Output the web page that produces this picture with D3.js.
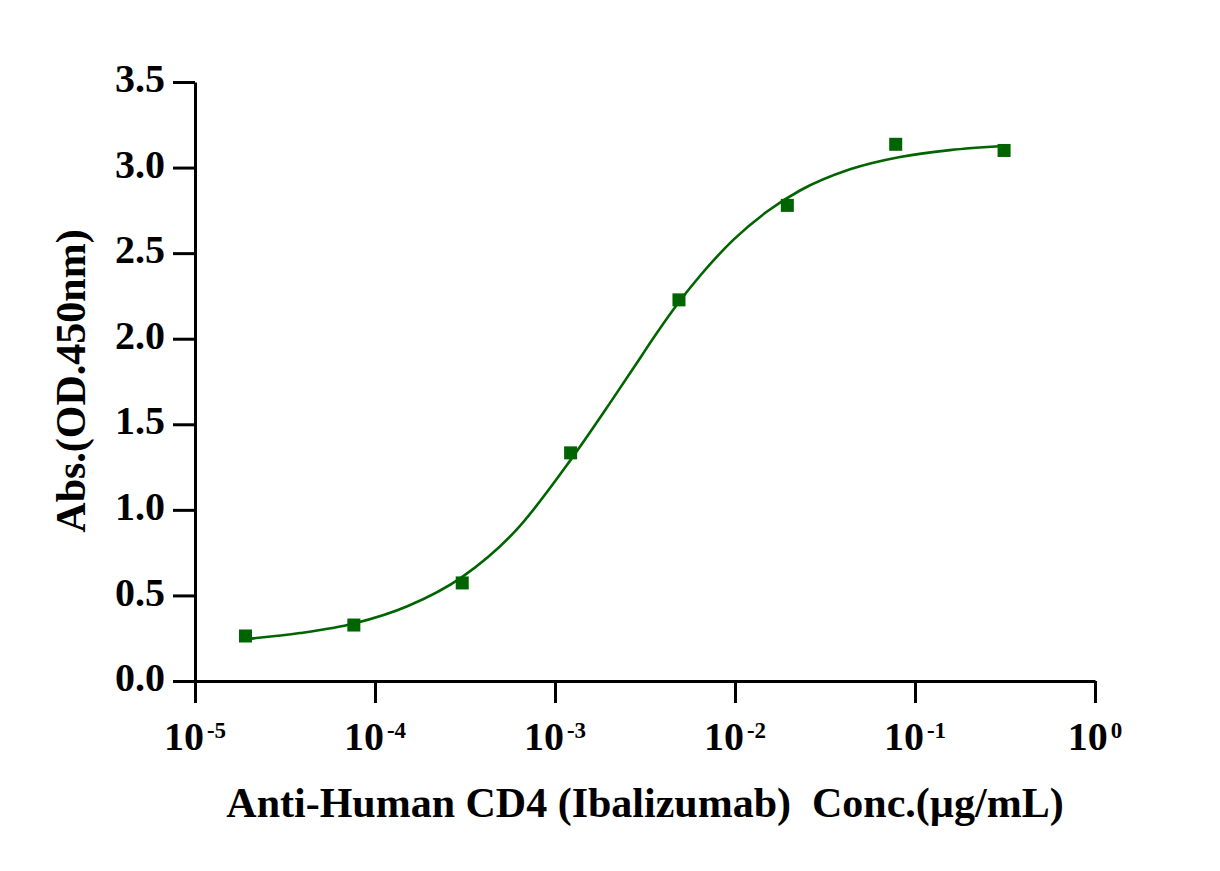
<!DOCTYPE html>
<html>
<head>
<meta charset="utf-8">
<script src="https://cdn.jsdelivr.net/npm/d3@7"></script>
<style>
body{margin:0;background:#fff;}
text{font-family:"Liberation Serif","Times New Roman",serif;font-weight:bold;fill:#000;}
</style>
</head>
<body>
<svg id="chart" width="1220" height="871"></svg>
<script>
// measured points, 4-fold dilutions starting at 0.3125 ug/mL
var conc = [1.907e-5, 7.629e-5, 3.052e-4, 1.221e-3, 4.883e-3, 1.953e-2, 7.813e-2, 0.3125];
var absorb = [0.263, 0.327, 0.573, 1.333, 2.227, 2.779, 3.136, 3.100];

// fitted curve (log10 conc, absorbance)
var curveLogConc = [-4.717, -4.417, -4.117, -3.817, -3.517, -3.217, -2.911, -2.694, -2.522, -2.472, -2.311, -2.194, -2.011, -1.822, -1.639, -1.361, -1.083, -0.806, -0.506];
var curveAbs = [0.245, 0.280, 0.336, 0.438, 0.607, 0.880, 1.295, 1.625, 1.895, 1.975, 2.215, 2.368, 2.576, 2.743, 2.866, 2.990, 3.062, 3.102, 3.126];

var yTicks = [0, 0.5, 1.0, 1.5, 2.0, 2.5, 3.0, 3.5];
var xTicks = [1e-5, 1e-4, 1e-3, 1e-2, 1e-1, 1];
var xTickExp = ["-5", "-4", "-3", "-2", "-1", "0"];

var green = "#006400";

var svg = d3.select("#chart");

var x = d3.scaleLog().domain([1e-5, 1]).range([195, 1095]);
var y = d3.scaleLinear().domain([0, 3.5]).range([681, 82]);

//----------Y AXIS
var yAxis = svg.append("g")
    .attr("transform", "translate(195,0)")
    .call(d3.axisLeft(y).tickValues(yTicks).tickSize(22).tickSizeOuter(0).tickPadding(8).tickFormat(d3.format(".1f")));
yAxis.select(".domain").attr("stroke", "#000").attr("stroke-width", 3);
yAxis.selectAll(".tick line").attr("stroke", "#000").attr("stroke-width", 3);
yAxis.selectAll(".tick text")
    .attr("font-size", 40)
    .attr("font-family", "Liberation Serif")
    .attr("font-weight", "bold")
    .attr("dy", "0.24em");

//----------X AXIS
var xAxis = svg.append("g")
    .attr("transform", "translate(0,681)")
    .call(d3.axisBottom(x).tickValues(xTicks).tickSize(22).tickSizeOuter(0).tickFormat(""));
xAxis.select(".domain").attr("stroke", "#000").attr("stroke-width", 3);
xAxis.selectAll(".tick line").attr("stroke", "#000").attr("stroke-width", 3);

// tick labels as 10 with superscript
var lab = svg.append("g").selectAll("text").data(xTicks).enter().append("text")
    .attr("x", function (d) { return x(d); })
    .attr("y", 750)
    .attr("text-anchor", "middle")
    .attr("font-size", 40);
lab.append("tspan").text("10");
lab.append("tspan")
    .attr("font-size", 23)
    .attr("dx", 3)
    .attr("dy", -12)
    .text(function (d, i) { return xTickExp[i]; });

//----------CURVE
var line = d3.line()
    .x(function (d) { return x(Math.pow(10, d[0])); })
    .y(function (d) { return y(d[1]); })
    .curve(d3.curveMonotoneX);
svg.append("path")
    .datum(d3.zip(curveLogConc, curveAbs))
    .attr("d", line)
    .attr("fill", "none")
    .attr("stroke", green)
    .attr("stroke-width", 2.6);

//----------POINTS
var sz = 13;
svg.append("g").selectAll("rect").data(d3.zip(conc, absorb)).enter().append("rect")
    .attr("x", function (d) { return x(d[0]) - sz / 2; })
    .attr("y", function (d) { return y(d[1]) - sz / 2; })
    .attr("width", sz)
    .attr("height", sz)
    .attr("fill", green);

//----------TITLES
svg.append("text")
    .attr("x", 645)
    .attr("y", 817)
    .attr("text-anchor", "middle")
    .attr("font-size", 42)
    .attr("xml:space", "preserve")
    .text("Anti-Human CD4 (Ibalizumab)  Conc.(\u00b5g/mL)");

svg.append("text")
    .attr("transform", "translate(85,381) rotate(-90)")
    .attr("text-anchor", "middle")
    .attr("font-size", 42)
    .text("Abs.(OD.450nm)");
</script>
</body>
</html>
